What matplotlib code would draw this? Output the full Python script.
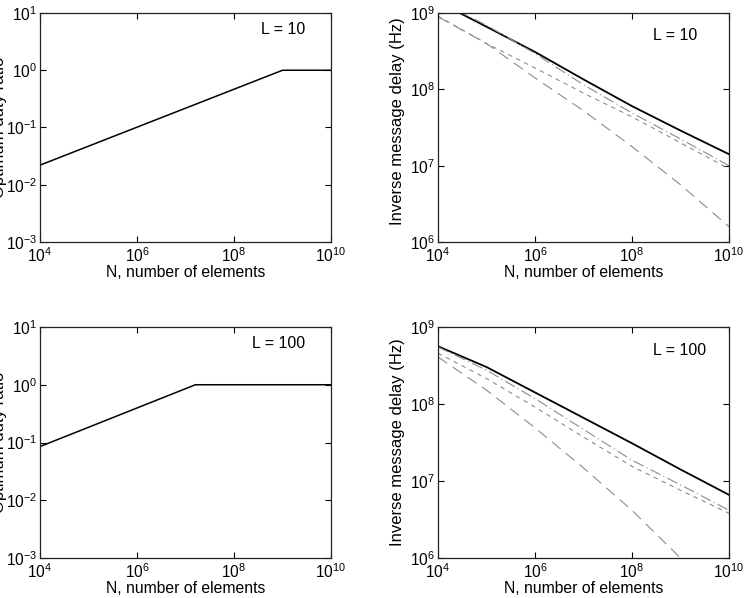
import numpy as np
import matplotlib
matplotlib.use("Agg")
import matplotlib.pyplot as plt
from matplotlib.ticker import LogLocator, NullLocator

plt.rcParams['font.family'] = ['Liberation Sans', 'DejaVu Sans']
plt.rcParams['mathtext.fontset'] = 'custom'
plt.rcParams['mathtext.rm'] = 'Liberation Sans'
plt.rcParams['mathtext.it'] = 'Liberation Sans'
plt.rcParams['font.size'] = 12

# duty ratio, breakpoints of the piecewise straight (log-log) curves
duty_N_10 = [1e4, 1e9, 1e10]
duty_10 = [0.022, 1.0, 1.0]
duty_N_100 = [1e4, 1.6e7, 1e10]
duty_100 = [0.085, 1.0, 1.0]

# inverse message delay, log10 values
logN = [4, 5, 6, 7, 8, 9, 10]
solid_N_10 = [10**4.45, 1e5, 1e6, 1e7, 1e8, 1e9, 1e10]
solid_10 = [9.0, 8.82, 8.49, 8.13, 7.78, 7.46, 7.15]
dashdot_N_10 = [10**4.4, 1e5, 1e6, 1e7, 1e8, 1e9, 1e10]
dashdot_10 = [9.03, 8.84, 8.47, 8.06, 7.69, 7.35, 7.0]
short_10 = [8.96, 8.6, 8.28, 7.95, 7.64, 7.3, 6.96]
long_10 = [8.95, 8.6, 8.15, 7.72, 7.25, 6.75, 6.2]

solid_100 = [8.75, 8.48, 8.15, 7.82, 7.49, 7.15, 6.82]
dashdot_100 = [8.74, 8.44, 8.07, 7.67, 7.27, 6.95, 6.62]
short_100 = [8.66, 8.33, 7.96, 7.57, 7.19, 6.88, 6.58]
long_100 = [8.61, 8.18, 7.69, 7.17, 6.62, 6.0, 5.4]

gray = '#8c8c8c'

fig = plt.figure(figsize=(7.45, 5.98), dpi=100)
lx, rx, w = 40/745, 438/745, 291/745
ax_tl = fig.add_axes([lx, 1-242/598, w, 229/598])
ax_tr = fig.add_axes([rx, 1-242/598, w, 229/598])
ax_bl = fig.add_axes([lx, 1-558/598, w, 231/598])
ax_br = fig.add_axes([rx, 1-558/598, w, 231/598])


def style(ax, ylo, yhi):
    ax.set_xscale('log')
    ax.set_yscale('log')
    ax.set_xlim(1e4, 1e10)
    ax.set_ylim(ylo, yhi)
    ax.xaxis.set_major_locator(LogLocator(base=100))
    ax.yaxis.set_major_locator(LogLocator(base=10, numticks=12))
    ax.xaxis.set_minor_locator(NullLocator())
    ax.yaxis.set_minor_locator(NullLocator())
    ax.tick_params(direction='in', top=True, right=True, length=4, width=0.8,
                   labelsize=11.2)
    ax.tick_params(axis='x', pad=3)
    ax.tick_params(axis='y', pad=2)
    ax.set_xlabel('N, number of elements', labelpad=0, fontsize=11.3)
    for s in ax.spines.values():
        s.set_linewidth(0.9)
        s.set_color('#222222')


for ax, N, d, lab in [(ax_tl, duty_N_10, duty_10, 'L = 10'),
                      (ax_bl, duty_N_100, duty_100, 'L = 100')]:
    style(ax, 1e-3, 1e1)
    ax.plot(N, d, color='black', lw=1.1)
    ax.set_ylabel('Optimum duty ratio', fontsize=12)
    ax.yaxis.set_label_coords(-0.114, 0.5)
    ax.text(0.91, 0.93, lab, transform=ax.transAxes, ha='right', va='center',
            fontsize=11.5)

Nd = [10.0**v for v in logN]

style(ax_tr, 1e6, 1e9)
ax_tr.plot(solid_N_10, [10**v for v in solid_10], color='black', lw=1.3)
ax_tr.plot(dashdot_N_10, [10**v for v in dashdot_10], color=gray, lw=0.8, ls=(0, (10, 3, 1, 3)))
ax_tr.plot(Nd, [10**v for v in short_10], color=gray, lw=0.8, ls=(0, (4, 4)))
ax_tr.plot(Nd, [10**v for v in long_10], color=gray, lw=0.8, ls=(0, (10, 6)))
ax_tr.text(0.89, 0.9, 'L = 10', transform=ax_tr.transAxes, ha='right', va='center',
           fontsize=11.5)

style(ax_br, 1e6, 1e9)
ax_br.plot(Nd, [10**v for v in solid_100], color='black', lw=1.3)
ax_br.plot(Nd, [10**v for v in dashdot_100], color=gray, lw=0.8, ls=(0, (10, 3, 1, 3)))
ax_br.plot(Nd, [10**v for v in short_100], color=gray, lw=0.8, ls=(0, (4, 4)))
ax_br.plot(Nd, [10**v for v in long_100], color=gray, lw=0.8, ls=(0, (10, 6)))
ax_br.text(0.92, 0.9, 'L = 100', transform=ax_br.transAxes, ha='right', va='center',
           fontsize=11.5)

for ax, yc in ((ax_tr, 0.53), (ax_br, 0.5)):
    ax.set_ylabel('Inverse message delay (Hz)', fontsize=12)
    ax.yaxis.set_label_coords(-0.113, yc)

fig.savefig('out.png', dpi=100)
